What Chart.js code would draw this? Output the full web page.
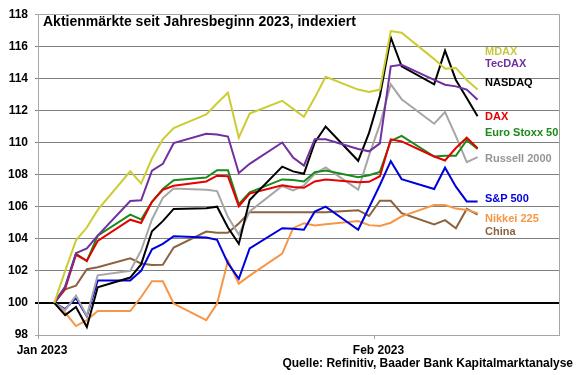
<!DOCTYPE html>
<html lang="de">
<head>
<meta charset="utf-8">
<title>Aktienmärkte seit Jahresbeginn 2023</title>
<script src="https://cdn.jsdelivr.net/npm/chart.js"></script>
<style>
  body { margin: 0; background: #fff; }
  #wrap { position: relative; width: 580px; height: 375px; font-family: "Liberation Sans", Arial, sans-serif; font-weight: bold; }
  #wrap canvas { position: absolute; left: 0; top: 0; }
  .txt { position: absolute; white-space: nowrap; }
  #title { left: 43px; top: 13px; font-size: 14px; line-height: 16px; color: #000; }
  .lbl { left: 485px; font-size: 11px; line-height: 12px; }
  #source { right: 7px; top: 356px; font-size: 12px; line-height: 14px; color: #000; }
</style>
</head>
<body>
<div id="wrap">
  <canvas id="myChart" width="580" height="375"></canvas>
  <div id="title" class="txt">Aktienmärkte seit Jahresbeginn 2023, indexiert</div>
  <div id="labels"></div>
  <div id="source" class="txt">Quelle: Refinitiv, Baader Bank Kapitalmarktanalyse</div>
</div>
<script>
// Handelstage als Tag im Jahr (2 = 2. Jan, 32 = 1. Feb)
const tradingDays = [2, 3, 4, 5, 6, 9, 10, 11, 12, 13, 16, 17, 18, 19, 20, 23, 24, 25, 26, 27, 30, 31, 32, 33, 34, 37, 38, 39, 40, 41];

const mdax = [100, 102.0, 103.9, 104.7, 105.8, 108.2, 107.45, 109.0, 110.2, 110.9, 111.75, 112.45, 113.1, 110.3, 111.8, 112.6, 112.1, 111.6, 112.8, 114.1, 113.3, 113.15, 113.3, 116.95, 116.85, 115.2, 114.6, 114.65, 113.9, 113.3];
const tecdax = [100, 101.0, 103.1, 103.4, 104.2, 106.35, 106.4, 108.25, 108.67, 109.96, 110.55, 110.5, 110.37, 108.1, 108.67, 110.0, 109.07, 108.56, 110.2, 110.2, 109.6, 109.45, 109.95, 114.75, 114.85, 113.9, 113.6, 113.5, 113.3, 112.67];
const nasdaq = [100, 99.24, 99.75, 98.5, 100.98, 101.58, 102.4, 104.47, 105.1, 105.86, 105.9, 106.0, 104.7, 103.68, 106.41, 108.5, 108.2, 108.05, 110.0, 111.0, 108.86, 110.6, 112.9, 116.55, 114.75, 113.63, 115.73, 113.9, 112.77, 111.64];
const dax = [100, 100.88, 103.0, 102.63, 103.86, 105.19, 104.98, 106.3, 107.05, 107.3, 107.57, 107.93, 107.9, 106.03, 106.82, 107.33, 107.22, 107.18, 107.57, 107.7, 107.53, 107.55, 107.9, 110.2, 110.07, 109.13, 108.88, 109.66, 110.3, 109.64];
const stoxx50 = [100, 101.0, 103.08, 102.6, 104.2, 105.5, 105.2, 106.3, 107.1, 107.65, 107.82, 108.27, 108.27, 106.15, 106.89, 107.7, 107.66, 107.57, 108.15, 108.25, 107.84, 107.96, 108.17, 110.1, 110.42, 109.13, 109.17, 109.17, 110.15, 109.6];
const russell = [100, 99.55, 100.45, 99.2, 101.72, 102.0, 103.27, 105.2, 106.55, 107.13, 107.05, 106.97, 105.35, 104.26, 105.7, 107.29, 107.02, 107.33, 108.05, 108.45, 107.06, 109.2, 111.13, 113.63, 112.7, 111.17, 111.9, 110.4, 108.78, 109.09];
const sp500 = [100, 99.62, 100.3, 99.16, 101.4, 101.4, 102.0, 103.34, 103.68, 104.16, 104.08, 103.93, 102.48, 101.5, 103.4, 104.66, 104.62, 104.56, 105.69, 106.0, 104.56, 105.95, 107.35, 108.84, 107.72, 107.1, 108.43, 107.25, 106.33, 106.33];
const nikkei = [100, 99.4, 98.56, 98.93, 99.49, 99.49, 100.37, 101.35, 101.35, 99.96, 98.93, 99.96, 102.63, 101.2, 101.7, 103.07, 104.66, 104.97, 104.83, 104.9, 105.11, 104.85, 104.8, 105.0, 105.4, 106.1, 106.1, 105.88, 105.8, 105.6];
const china = [100, 100.85, 101.08, 102.1, 102.22, 102.78, 102.46, 102.36, 102.38, 103.45, 104.45, 104.37, 104.37, 104.95, 105.66, 105.66, 105.66, 105.66, 105.66, 105.66, 105.78, 105.42, 106.37, 106.37, 105.6, 104.9, 105.16, 104.65, 105.86, 105.5];

const seriesNames = ['MDAX', 'TecDAX', 'NASDAQ', 'DAX', 'Euro Stoxx 50', 'Russell 2000', 'S&P 500', 'Nikkei 225', 'China'];
const seriesValues = [mdax, tecdax, nasdaq, dax, stoxx50, russell, sp500, nikkei, china];

// Monatsanfang (Tag im Jahr - 1) und Beschriftung der x-Achse
const monthTicks = [0, 31];
const monthLabels = ['Jan 2023', 'Feb 2023'];

// Farben und Position der Namen rechts im Diagramm
const lineColors = ['#cccc33', '#7030a0', '#000000', '#e60000', '#1a8a1a', '#a6a6a6', '#0000dd', '#f79646', '#8b6340'];
const textColors = ['#c8c840', '#7030a0', '#000000', '#e60000', '#1a8a1a', '#959595', '#0000dd', '#f79646', '#8b6340'];
const labelTops = [44.7, 56.7, 75.7, 110.4, 126.2, 151.7, 192.2, 211.7, 224.7];

const datasets = seriesNames.map((name, i) => ({
    label: name,
    data: tradingDays.map((d, j) => ({ x: d - 0.5, y: seriesValues[i][j] })),
    borderColor: lineColors[i],
    backgroundColor: lineColors[i],
    borderWidth: 2,
    pointRadius: 0,
    tension: 0,
    fill: false
}));

// rechter Rahmen des Diagrammbereichs
const frame = {
    id: 'frame',
    afterDraw(chart) {
        const { ctx, chartArea } = chart;
        ctx.save();
        ctx.strokeStyle = '#a6a6a6';
        ctx.lineWidth = 1;
        ctx.beginPath();
        ctx.moveTo(chartArea.right + 0.5, chartArea.top);
        ctx.lineTo(chartArea.right + 0.5, chartArea.bottom);
        ctx.stroke();
        ctx.restore();
    }
};

const font = { family: '"Liberation Sans", Arial, sans-serif', size: 12, weight: 'bold' };

const ctx = document.getElementById('myChart').getContext('2d');
const myChart = new Chart(ctx, {
    type: 'line',
    data: { datasets: datasets },
    plugins: [frame],
    options: {
        responsive: false,
        animation: false,
        devicePixelRatio: 1,
        layout: { padding: { top: 10, right: 21, left: 0, bottom: 0 } },
        plugins: {
            legend: { display: false },
            tooltip: { enabled: false }
        },
        scales: {
            x: {
                type: 'linear',
                min: 0,
                max: 48,
                afterFit: (scale) => { scale.height = 40; },
                afterBuildTicks: (scale) => { scale.ticks = monthTicks.map(v => ({ value: v })); },
                grid: { drawOnChartArea: false, drawTicks: true, tickLength: 4, color: '#a6a6a6' },
                border: { color: '#a6a6a6' },
                ticks: {
                    autoSkip: false,
                    maxRotation: 0,
                    padding: 4,
                    labelOffset: 4,
                    color: '#000',
                    font: font,
                    callback: (v) => monthLabels[monthTicks.indexOf(v)]
                }
            },
            y: {
                min: 98,
                max: 118,
                afterFit: (scale) => { scale.width = 38; },
                ticks: { stepSize: 2, padding: 7, color: '#000', font: font },
                grid: {
                    tickLength: 3,
                    color: (c) => {
                        const v = c.tick ? c.tick.value : null;
                        if (v === 100) return '#000000';
                        if (v === 98 || v === 118) return '#a6a6a6';
                        return '#808080';
                    },
                    lineWidth: (c) => (c.tick && c.tick.value === 100 ? 2 : 1)
                },
                border: { color: '#a6a6a6' }
            }
        }
    }
});

// Namen der Indizes rechts neben den Linienenden
const labelBox = document.getElementById('labels');
seriesNames.forEach((name, i) => {
    const div = document.createElement('div');
    div.className = 'txt lbl';
    div.style.top = labelTops[i] + 'px';
    div.style.color = textColors[i];
    div.textContent = name;
    labelBox.appendChild(div);
});
</script>
</body>
</html>
